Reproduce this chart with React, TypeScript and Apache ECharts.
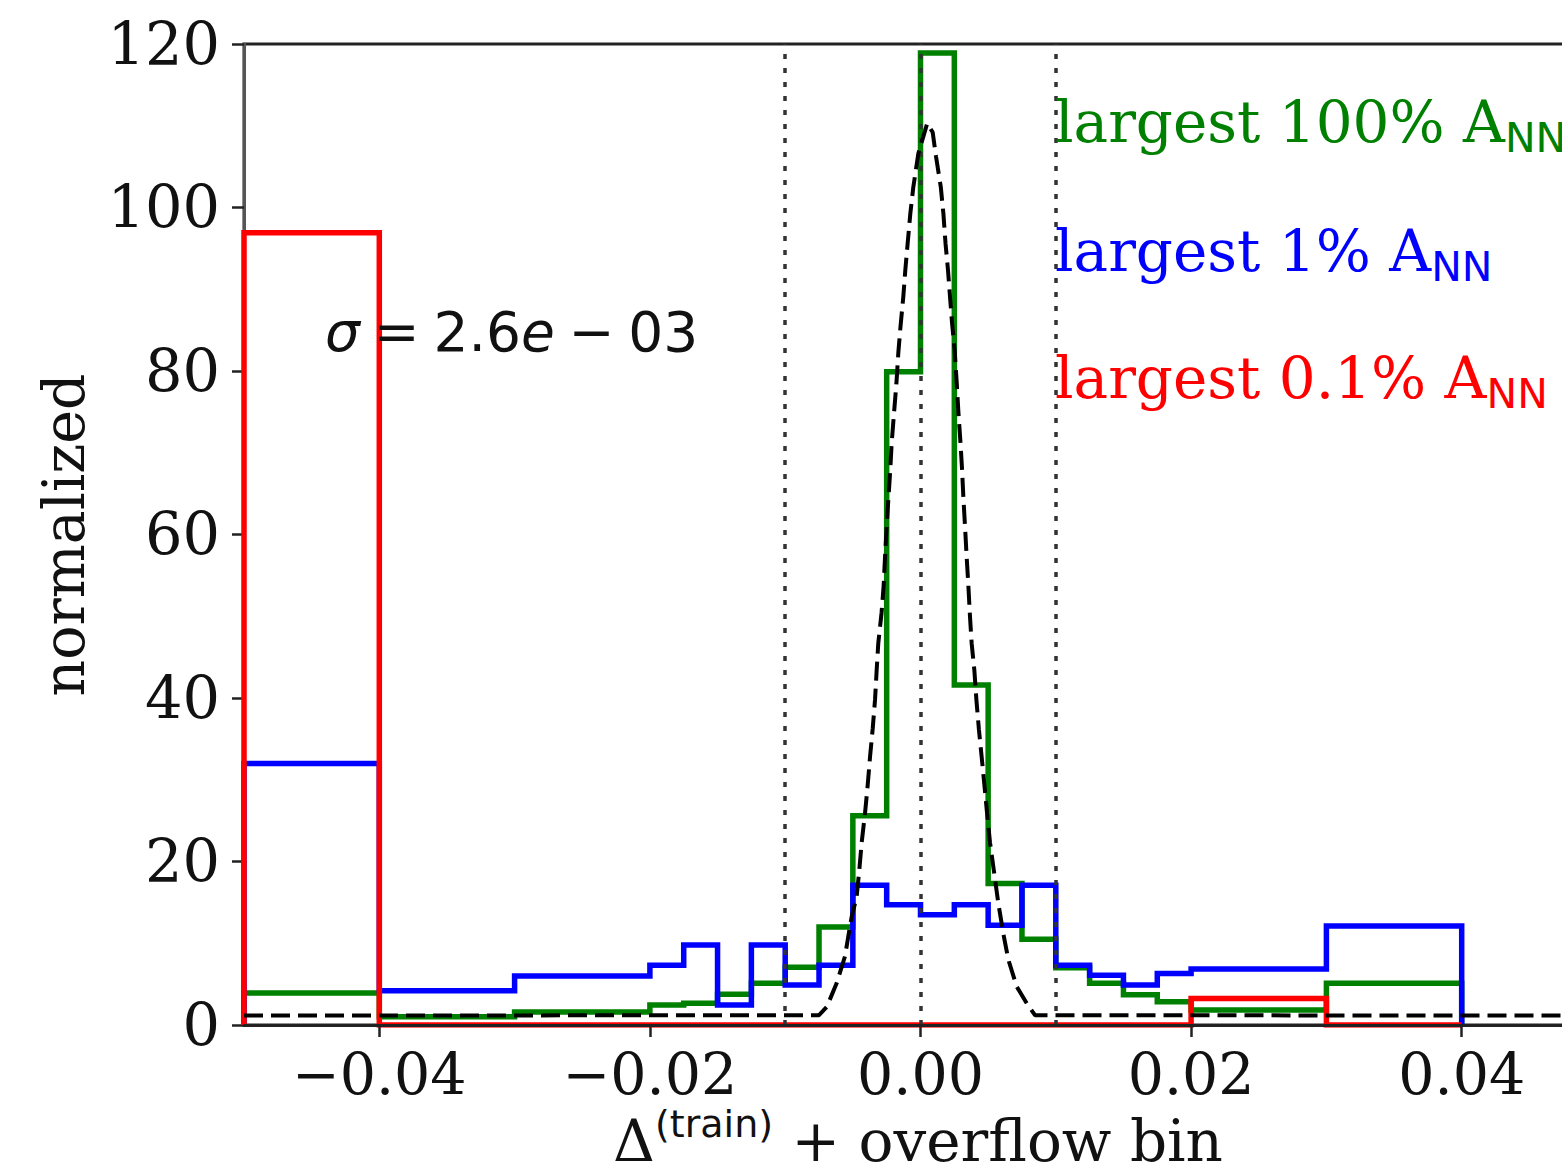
import React, { useEffect, useRef } from 'react';
import * as echarts from 'echarts';

// Histogram bin edges (first bin = underflow/overflow bin)
const binEdges = [-0.05, -0.04, -0.03, -0.02, -0.0175, -0.015, -0.0125, -0.01, -0.0075, -0.005, -0.0025, 0, 0.0025, 0.005, 0.0075, 0.01, 0.0125, 0.015, 0.0175, 0.02, 0.03, 0.04];
const green100 = [3.9, 1.0, 1.6, 2.45, 2.65, 3.75, 5.1, 7.05, 12.0, 25.6, 79.9, 118.9, 41.6, 17.3, 10.5, 7.0, 5.1, 3.7, 2.85, 1.85, 5.1];
const blue1 = [32.0, 4.2, 6.0, 7.3, 9.8, 2.45, 9.8, 4.9, 7.3, 17.1, 14.7, 13.5, 14.7, 12.2, 17.1, 7.3, 6.1, 4.9, 6.3, 6.85, 12.1];
const red01 = [96.9, 0, 0, 0, 0, 0, 0, 0, 0, 0, 0, 0, 0, 0, 0, 0, 0, 0, 0, 3.25, 0];

// Gaussian fit curve
const fitCurve: [number, number][] = [
  [-0.05, 1.15], [-0.0075, 1.2], [-0.00693, 2.2], [-0.0062, 5.1], [-0.00558, 8.4], [-0.00534, 10.8],
  [-0.00509, 13.2], [-0.00472, 15.7], [-0.00452, 19.0], [-0.00435, 22.3], [-0.0041, 25.9], [-0.0039, 29.4],
  [-0.00373, 32.8], [-0.00353, 36.3], [-0.00336, 39.8], [-0.00324, 43.4], [-0.00312, 46.7], [-0.00288, 50.4],
  [-0.00273, 53.6], [-0.00262, 57.3], [-0.0025, 61.0], [-0.00238, 64.2], [-0.00225, 67.5], [-0.00213, 71.2],
  [-0.00195, 75.0], [-0.00178, 78.5], [-0.00164, 82.2], [-0.00148, 85.4], [-0.00127, 89.1], [-0.00112, 92.4],
  [-0.00095, 95.6], [-0.00075, 99.3], [-0.00053, 102.5], [-0.00016, 106.6], [0.0005, 110.3], [0.0009, 109.2],
  [0.00115, 106.2], [0.0015, 102.5], [0.00169, 99.3], [0.00185, 95.6], [0.00203, 92.4], [0.00218, 89.1],
  [0.00233, 85.9], [0.00252, 82.6], [0.00268, 78.5], [0.0028, 75.0], [0.00294, 71.6], [0.00306, 68.3],
  [0.00318, 64.2], [0.00329, 61.0], [0.00341, 57.3], [0.00353, 54.0], [0.00366, 49.9], [0.00378, 46.7],
  [0.00398, 43.4], [0.00413, 39.8], [0.00432, 36.1], [0.00452, 32.8], [0.00472, 29.4], [0.00492, 25.9],
  [0.00514, 22.3], [0.00538, 19.4], [0.00575, 14.9], [0.00612, 11.2], [0.00649, 8.0], [0.00711, 4.7],
  [0.00785, 2.65], [0.00846, 1.2], [0.05, 1.15],
];

const xTicks = [-0.04, -0.02, 0, 0.02, 0.04];
const vLines = [-0.01, 0, 0.01];
const yMax = 120;
const yStep = 20;

const legendLabels = [
  { main: 'largest 100% A', color: '#008000' },
  { main: 'largest 1% A', color: '#0000ff' },
  { main: 'largest 0.1% A', color: '#ff0000' },
];
const sigmaLabel = '2.6';

function stepOutline(edges: number[], vals: number[]): [number, number][] {
  const pts: [number, number][] = [[edges[0], 0]];
  for (let i = 0; i < vals.length; i++) {
    pts.push([edges[i], vals[i]]);
    pts.push([edges[i + 1], vals[i]]);
  }
  pts.push([edges[edges.length - 1], 0]);
  return pts;
}

const SERIF = 'DejaVu Serif';
const SANS = 'DejaVu Sans';
const SP = '\u2005';

export default function App() {
  const ref = useRef<HTMLDivElement>(null);
  useEffect(() => {
    if (!ref.current) return;
    const chart = echarts.init(ref.current, undefined, { renderer: 'svg' });
    const histLine = (name: string, vals: number[], color: string, z: number) => ({
      name,
      type: 'line',
      data: stepOutline(binEdges, vals),
      showSymbol: false,
      symbol: 'none',
      silent: true,
      z,
      lineStyle: { color, width: 5.5, join: 'miter', cap: 'butt' },
    });
    const legendY = [86, 215, 342];
    chart.setOption({
      animation: false,
      backgroundColor: '#ffffff',
      grid: {
        left: 244,
        top: 44,
        width: 1353,
        height: 981,
        show: true,
        borderColor: '#222',
        borderWidth: 3,
        backgroundColor: 'transparent',
      },
      xAxis: {
        type: 'value',
        min: -0.05,
        max: 0.05,
        z: 5,
        splitLine: { show: false },
        axisLine: { show: true, onZero: false, lineStyle: { color: '#222', width: 3 } },
        axisTick: { show: true, customValues: xTicks, length: 12, lineStyle: { color: '#222', width: 2.5 } },
        axisLabel: {
          customValues: xTicks,
          formatter: (v: number) => (v < 0 ? '\u2212' : '') + Math.abs(v).toFixed(2),
          fontSize: 57,
          fontFamily: SERIF,
          color: '#111',
          margin: 20,
        },
      },
      yAxis: {
        type: 'value',
        min: 0,
        max: yMax,
        interval: yStep,
        splitLine: { show: false },
        axisLine: { show: true, onZero: false, lineStyle: { color: '#555', width: 3 } },
        axisTick: { show: true, length: 12, lineStyle: { color: '#222', width: 2.5 } },
        axisLabel: { fontSize: 59, fontFamily: SERIF, color: '#111', margin: 24 },
      },
      series: [
        histLine('largest 100%', green100, '#008000', 2),
        histLine('largest 1%', blue1, '#0000ff', 3),
        histLine('largest 0.1%', red01, '#ff0000', 4),
        {
          name: 'fit',
          type: 'line',
          data: fitCurve,
          showSymbol: false,
          symbol: 'none',
          silent: true,
          z: 6,
          lineStyle: { color: '#000', width: 4, type: [19, 8] },
          markLine: {
            symbol: 'none',
            silent: true,
            label: { show: false },
            lineStyle: { color: '#333', width: 3.5, type: [5, 9] },
            data: vLines.map((v) => ({ xAxis: v })),
          },
        },
      ],
      graphic: [
        {
          type: 'text',
          x: 64,
          y: 535,
          rotation: Math.PI / 2,
          style: { text: 'normalized', fontSize: 57, fontFamily: SERIF, fill: '#111', align: 'center', verticalAlign: 'middle' },
        },
        {
          type: 'text',
          x: 918,
          y: 1105,
          style: {
            text: '{d|\u0394}{s|(train)}{d| + overflow bin}',
            align: 'center',
            verticalAlign: 'top',
            fill: '#111',
            rich: {
              d: { fontSize: 58, fontFamily: SERIF, lineHeight: 72, verticalAlign: 'middle', fill: '#111' },
              s: { fontSize: 38, fontFamily: SANS, lineHeight: 38, verticalAlign: 'top', fill: '#111' },
            },
          },
        },
        {
          type: 'text',
          x: 325,
          y: 296,
          z: 10,
          style: {
            text: '{i|\u03c3}' + SP + '=' + SP + sigmaLabel + '{i|e}' + SP + '\u2212' + SP + '03',
            fontSize: 55,
            fontFamily: SANS,
            fill: '#111',
            align: 'left',
            verticalAlign: 'top',
            lineHeight: 72,
            rich: {
              i: { fontSize: 55, fontFamily: SANS, fontStyle: 'italic', lineHeight: 72, verticalAlign: 'middle', fill: '#111' },
            },
          },
        },
        ...legendLabels.map((l, i) => ({
          type: 'text',
          x: 1055,
          y: legendY[i],
          z: 10,
          style: {
            text: '{m|' + l.main + '}{s|NN}',
            align: 'left',
            verticalAlign: 'top',
            fill: l.color,
            rich: {
              m: { fontSize: 58, fontFamily: SERIF, lineHeight: 72, verticalAlign: 'middle', fill: l.color },
              s: { fontSize: 41, fontFamily: SANS, lineHeight: 40, verticalAlign: 'bottom', fill: l.color },
            },
          },
        })),
      ],
    });
    return () => chart.dispose();
  }, []);
  return (
    <div style={{ position: 'absolute', left: 0, top: 0, width: 1562, height: 1174, overflow: 'hidden', background: '#fff' }}>
      <div ref={ref} style={{ width: 1640, height: 1174 }} />
    </div>
  );
}
